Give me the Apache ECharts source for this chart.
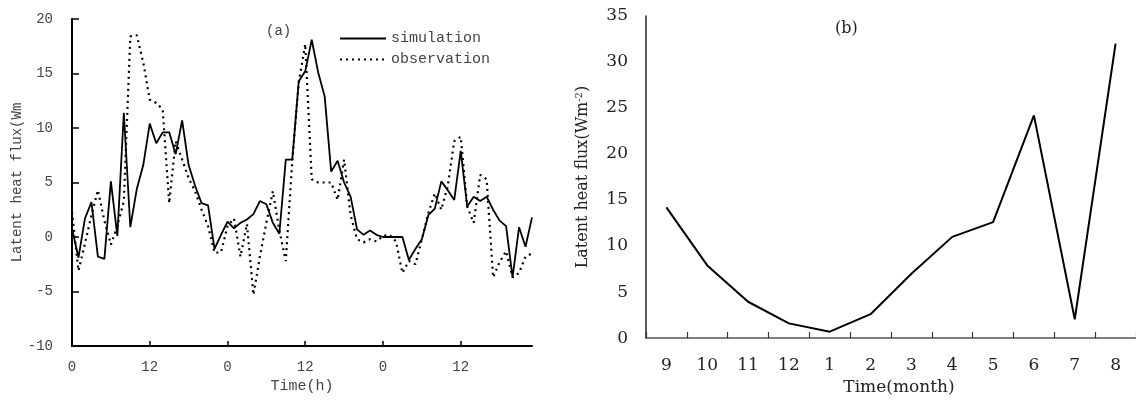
<!DOCTYPE html>
<html>
<head>
<meta charset="utf-8">
<script src="https://cdn.jsdelivr.net/npm/echarts@6/dist/echarts.min.js"></script>
<style>
  html, body { margin: 0; padding: 0; background: #fff; }
  #chart { width: 1136px; height: 401px; }
</style>
</head>
<body>
<div id="chart"></div>
<script>
// (a) hourly latent heat flux, 3 days
const hourTickLabels = ['0', '12', '0', '12', '0', '12'];
const simulation = [
  0.8, -1.9, 1.7, 3.2, -1.8, -2.0, 5.1, 0.1, 11.4, 0.9, 4.4, 6.6,
  10.4, 8.6, 9.6, 9.6, 7.6, 10.7, 6.6, 4.7, 3.1, 2.9, -1.1, 0.2,
  1.4, 0.8, 1.3, 1.6, 2.1, 3.3, 3.0, 1.3, 0.3, 7.1, 7.1, 14.3,
  15.2, 18.1, 15.1, 12.9, 6.0, 7.0, 5.0, 3.7, 0.7, 0.2, 0.6, 0.2,
  0.0, 0.0, 0.0, 0.0, -2.1, -1.1, -0.2, 2.0, 2.6, 5.1, 4.3, 3.4,
  7.9, 2.8, 3.7, 3.3, 3.7, 2.5, 1.5, 1.0, -3.7, 0.9, -0.9, 1.8
];
const observation = [
  2.3, -3.1, -0.6, 2.0, 4.3, 1.5, -0.7, 1.0, 3.3, 18.4, 18.5, 16.0,
  12.6, 12.3, 11.7, 3.1, 8.8, 7.1, 5.4, 4.2, 2.5, 1.0, -1.45, -1.4,
  1.0, 1.7, -1.8, 1.2, -5.3, -1.8, 1.3, 4.2, 0.6, -2.2, 7.0, 14.2,
  17.7, 5.3, 5.0, 5.0, 5.0, 3.4, 7.1, 2.0, -0.2, -0.5, -0.2, -0.4,
  0.1, 0.2, -0.4, -3.3, -2.2, -2.5, -0.2, 2.2, 4.0, 2.5, 4.7, 8.8,
  9.2, 2.8, 1.3, 5.7, 5.3, -3.7, -2.3, -1.3, -3.7, -3.3, -1.8, -1.5
];

// (b) monthly latent heat flux
const months = ['9', '10', '11', '12', '1', '2', '3', '4', '5', '6', '7', '8'];
const monthlyFlux = [14.2, 7.9, 3.95, 1.6, 0.7, 2.6, 7.0, 11.0, 12.6, 24.2, 2.05, 32.0];

const hours = simulation.map((_, i) => i);

const monoFont = 'Liberation Mono';
const serifFont = 'DejaVu Serif';

const chart = echarts.init(document.getElementById('chart'));

chart.setOption({
  animation: false,
  backgroundColor: '#fff',
  title: [
    { text: '(a)', left: 261, top: 19, textStyle: { fontFamily: monoFont, fontSize: 14, fontWeight: 'normal', color: '#444' } },
    { text: '(b)', left: 830, top: 16, textStyle: { fontFamily: serifFont, fontSize: 16, fontWeight: 'normal', color: '#222' } }
  ],
  legend: {
    orient: 'vertical',
    left: 334,
    top: 26,
    itemWidth: 46,
    itemHeight: 10,
    itemGap: 6,
    data: ['simulation', 'observation'],
    itemStyle: { opacity: 0 },
    textStyle: { fontFamily: monoFont, fontSize: 15, color: '#444' }
  },
  grid: [
    { left: 72, top: 19, width: 460, height: 327 },
    { left: 646, top: 16, width: 494, height: 325 }
  ],
  xAxis: [
    {
      gridIndex: 0,
      type: 'category',
      data: hours,
      boundaryGap: false,
      name: 'Time(h)',
      nameLocation: 'middle',
      nameGap: 26,
      nameTextStyle: { fontFamily: monoFont, fontSize: 15, color: '#444' },
      axisLine: { onZero: false, lineStyle: { color: '#000', width: 2 } },
      axisTick: { show: true, inside: true, length: 5, interval: 11, lineStyle: { color: '#000', width: 1.5 } },
      axisLabel: {
        interval: 11,
        margin: 14,
        fontFamily: monoFont,
        fontSize: 14,
        color: '#444',
        formatter: (v, i) => hourTickLabels[i / 12]
      },
      splitLine: { show: false }
    },
    {
      gridIndex: 1,
      type: 'category',
      data: months,
      boundaryGap: true,
      name: 'Time(month)',
      nameLocation: 'middle',
      nameGap: 30,
      nameTextStyle: { fontFamily: serifFont, fontSize: 17, color: '#222', padding: [0, 0, 0, 16] },
      axisLine: { onZero: false, lineStyle: { color: '#555', width: 1.5 } },
      axisTick: { show: true, inside: true, length: 6, interval: 0, lineStyle: { color: '#333', width: 1.2 } },
      axisLabel: { margin: 19, fontFamily: serifFont, fontSize: 17, color: '#222' },
      splitLine: { show: false }
    }
  ],
  yAxis: [
    {
      gridIndex: 0,
      type: 'value',
      min: -10,
      max: 20,
      interval: 5,
      name: 'Latent heat flux(Wm',
      nameLocation: 'middle',
      nameRotate: 90,
      nameGap: 48,
      nameTextStyle: { fontFamily: monoFont, fontSize: 14, color: '#444' },
      axisLine: { show: true, onZero: false, lineStyle: { color: '#000', width: 2 } },
      axisTick: { show: true, inside: true, length: 7, lineStyle: { color: '#000', width: 1.5 } },
      axisLabel: { margin: 19, fontFamily: monoFont, fontSize: 14, color: '#444' },
      splitLine: { show: false }
    },
    {
      gridIndex: 1,
      type: 'value',
      min: 0,
      max: 35,
      interval: 5,
      name: '{t|Latent heat flux(Wm}{s|-2}{t|)}',
      nameLocation: 'middle',
      nameRotate: 90,
      nameGap: 54,
      nameTextStyle: {
        rich: {
          t: { fontFamily: serifFont, fontSize: 16, color: '#222' },
          s: { fontFamily: serifFont, fontSize: 10, color: '#222', verticalAlign: 'top', padding: [0, 0, 8, 0] }
        }
      },
      axisLine: { show: true, onZero: false, lineStyle: { color: '#222', width: 1.5 } },
      axisTick: { show: false },
      axisLabel: { margin: 18, fontFamily: serifFont, fontSize: 17, color: '#222' },
      splitLine: { show: false }
    }
  ],
  series: [
    {
      name: 'simulation',
      type: 'line',
      xAxisIndex: 0,
      yAxisIndex: 0,
      data: simulation,
      symbol: 'none',
      color: '#000',
      lineStyle: { color: '#000', width: 1.8 }
    },
    {
      name: 'observation',
      type: 'line',
      xAxisIndex: 0,
      yAxisIndex: 0,
      data: observation,
      symbol: 'none',
      color: '#000',
      lineStyle: { color: '#000', width: 2.2, type: [2, 4] }
    },
    {
      name: 'monthly',
      type: 'line',
      xAxisIndex: 1,
      yAxisIndex: 1,
      data: monthlyFlux,
      symbol: 'none',
      color: '#000',
      lineStyle: { color: '#000', width: 2 }
    }
  ]
});
</script>
</body>
</html>
